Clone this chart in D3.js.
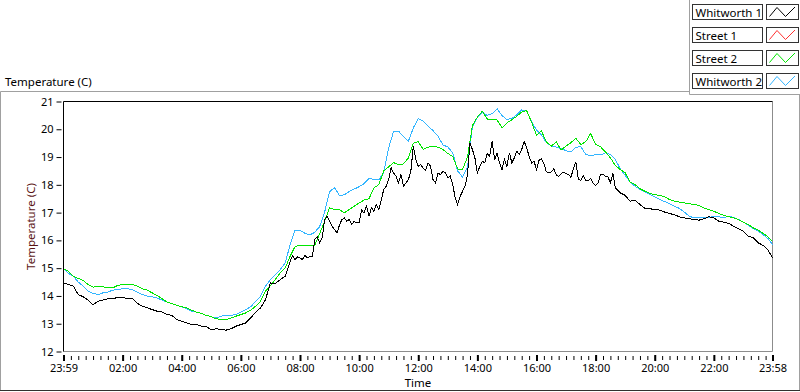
<!DOCTYPE html>
<html>
<head>
<meta charset="utf-8">
<script src="https://cdn.jsdelivr.net/npm/d3@7/dist/d3.min.js"></script>
<style>
  body { margin: 0; background: #fff; }
  svg text { font-family: "Noto Sans", sans-serif; fill: #000; }
</style>
</head>
<body>
<div id="chart"></div>
<script>
// minutes between samples, measured from the 23:59 start
const stepMinutes = 10;
const lastMinute = 1439;

const seriesNames = ["Whitworth 1", "Street 1", "Street 2", "Whitworth 2"];
const seriesColors = ["#000000", "#ff3030", "#00e600", "#33b5ff"];

// Whitworth 1 is logged more densely during the day, where it is noisy
// night: every 10 min from 0, day: every 5 min from 460, evening: every 10 min from 1140
const whitworth1Night = [
  14.47, 14.41, 14.35, 14.05, 13.97, 13.85, 13.68, 13.81, 13.85, 13.90,
  13.92, 13.93, 13.93, 13.92, 13.90, 13.73, 13.63, 13.57, 13.51, 13.45,
  13.42, 13.33, 13.30, 13.15, 13.09, 13.03, 12.97, 12.97, 12.91, 12.89,
  12.79, 12.82, 12.79, 12.77, 12.82, 12.91, 12.97, 13.03, 13.21, 13.42,
  13.57, 13.87, 14.47, 14.45, 14.59, 14.71
];
const whitworth1Day = [
  15.25, 15.45, 15.31, 15.41, 15.37, 15.31, 15.46, 15.37, 15.41, 15.41,
  16.03, 16.13, 15.91, 16.09, 16.75, 16.87, 16.69, 16.51, 16.39, 16.27,
  16.54, 16.75, 16.81, 16.69, 16.75, 16.57, 16.69, 16.63, 16.63, 17.09,
  16.99, 17.23, 16.87, 17.17, 17.05, 17.29, 17.11, 17.47, 17.83, 17.95,
  18.19, 18.61, 18.43, 18.31, 18.07, 18.37, 17.95, 18.07, 18.19, 18.49,
  19.39, 18.91, 18.67, 18.73, 18.60, 18.52, 18.79, 18.67, 18.19, 18.07,
  18.43, 18.37, 18.49, 18.43, 18.25, 18.31, 18.01, 17.53, 17.29, 17.59,
  17.77, 17.95, 18.37, 19.50, 19.27, 18.97, 18.43, 18.67, 18.85, 18.79,
  19.12, 19.03, 19.57, 18.91, 19.15, 18.79, 18.55, 18.91, 18.67, 19.15,
  18.79, 18.97, 19.21, 19.09, 19.27, 19.57, 19.33, 19.03, 18.79, 18.85,
  18.55, 18.88, 18.94, 18.76, 18.47, 18.43, 18.46, 18.58, 18.36, 18.31,
  18.40, 18.46, 18.40, 18.38, 18.27, 18.60, 18.82, 18.20, 18.16, 18.33,
  18.16, 18.16, 18.22, 18.07, 17.98, 18.07, 18.37, 18.37, 18.31, 18.29,
  18.07, 18.41, 17.89, 17.81, 17.71
];
const whitworth1Evening = [
  17.62, 17.41, 17.45, 17.29, 17.16, 17.14, 17.11, 17.09, 17.02, 16.97,
  16.92, 16.85, 16.81, 16.78, 16.75, 16.73, 16.78, 16.85, 16.81, 16.69,
  16.66, 16.61, 16.51, 16.42, 16.33, 16.15, 16.09, 15.91, 15.82, 15.65,
  15.37
];

// no samples were logged for this sensor
const street1 = [];

const street2 = [
  14.98, 14.89, 14.71, 14.63, 14.56, 14.41, 14.32, 14.33, 14.33, 14.29,
  14.29, 14.38, 14.41, 14.41, 14.41, 14.35, 14.26, 14.21, 14.11, 14.02,
  13.90, 13.78, 13.73, 13.66, 13.61, 13.57, 13.49, 13.42, 13.37, 13.30,
  13.25, 13.18, 13.15, 13.15, 13.21, 13.27, 13.33, 13.39, 13.49, 13.63,
  13.81, 14.17, 14.38, 14.59, 14.83, 15.01, 15.43, 15.78, 15.83, 15.80,
  15.80, 15.83, 16.25, 16.69, 17.17, 17.11, 17.11, 16.99, 17.11, 17.23,
  17.35, 17.45, 17.50, 17.89, 18.01, 18.50, 18.65, 18.80, 18.72, 18.75,
  18.97, 19.50, 19.55, 19.28, 19.36, 19.37, 19.36, 19.27, 19.13, 19.02,
  18.57, 18.56, 19.00, 20.14, 20.44, 20.65, 20.37, 20.36, 20.34, 20.05,
  20.23, 20.34, 20.47, 20.62, 20.67, 20.26, 19.78, 19.94, 19.55, 19.39,
  19.55, 19.25, 19.40, 19.52, 19.67, 19.45, 19.55, 19.85, 19.45, 19.37,
  19.18, 18.97, 18.70, 18.55, 18.43, 18.10, 18.01, 17.86, 17.77, 17.69,
  17.65, 17.62, 17.57, 17.47, 17.41, 17.38, 17.35, 17.32, 17.29, 17.26,
  17.17, 17.11, 17.05, 16.97, 16.90, 16.85, 16.81, 16.75, 16.66, 16.57,
  16.45, 16.37, 16.25, 16.13, 15.97
];

const whitworth2 = [
  14.98, 14.81, 14.71, 14.50, 14.35, 14.17, 14.09, 14.05, 14.11, 14.14,
  14.21, 14.23, 14.26, 14.26, 14.23, 14.14, 14.05, 13.99, 13.97, 13.93,
  13.85, 13.78, 13.73, 13.66, 13.61, 13.54, 13.45, 13.42, 13.37, 13.30,
  13.25, 13.21, 13.27, 13.30, 13.30, 13.33, 13.42, 13.51, 13.61, 13.81,
  13.99, 14.35, 14.59, 14.77, 14.95, 15.19, 15.85, 16.37, 16.35, 16.26,
  16.20, 16.29, 16.50, 17.02, 17.75, 17.90, 17.62, 17.64, 17.76, 17.85,
  17.93, 18.04, 18.23, 18.20, 18.18, 18.45, 19.33, 19.93, 19.93, 19.75,
  19.57, 20.05, 20.39, 20.30, 20.12, 19.95, 19.75, 19.44, 19.36, 19.15,
  18.50, 18.28, 18.65, 20.10, 20.42, 20.60, 20.50, 20.56, 20.74, 20.49,
  20.35, 20.39, 20.52, 20.70, 20.65, 20.28, 19.97, 19.80, 19.52, 19.40,
  19.36, 19.31, 19.23, 19.18, 19.35, 19.38, 19.09, 19.06, 19.08, 19.08,
  19.15, 19.09, 18.91, 18.58, 18.34, 18.10, 17.95, 17.83, 17.74, 17.65,
  17.57, 17.47, 17.40, 17.32, 17.23, 17.15, 17.02, 16.87, 16.81, 16.81,
  16.81, 16.81, 16.87, 16.85, 16.81, 16.87, 16.82, 16.75, 16.66, 16.54,
  16.42, 16.33, 16.21, 16.06, 15.85
];

const xTickMinutes = [0, 120, 240, 360, 480, 600, 720, 840, 960, 1080, 1200, 1320, 1439];
const xTickLabels = ["23:59", "02:00", "04:00", "06:00", "08:00", "10:00", "12:00",
                     "14:00", "16:00", "18:00", "20:00", "22:00", "23:58"];
const yTicks = [12, 13, 14, 15, 16, 17, 18, 19, 20, 21];

const width = 800, height = 392;
const plot = { left: 63.5, right: 772.5, top: 101.5, bottom: 351.5 };

const svg = d3.select("#chart").append("svg")
  .attr("width", width)
  .attr("height", height);

const x = d3.scaleLinear().domain([0, lastMinute]).range([plot.left, plot.right]);
const y = d3.scaleLinear().domain([12, 21]).range([plot.bottom, plot.top]);

// outer graph frame
svg.append("path")
  .attr("d", `M0.5,391 V91.5 H689`)
  .attr("fill", "none").attr("stroke", "#a0a0a0");
svg.append("path")
  .attr("d", `M799.5,95 V390.5 H0`)
  .attr("fill", "none").attr("stroke", "#a0a0a0");
svg.append("line")
  .attr("x1", 0).attr("x2", 800).attr("y1", 390.5).attr("y2", 390.5)
  .attr("stroke", "#303030");

// legend panel edge
svg.append("path")
  .attr("d", `M689.5,0 V94.5 H800`)
  .attr("fill", "none").attr("stroke", "#a0a0a0");

// title
svg.append("text")
  .attr("x", 5).attr("y", 86)
  .style("font-size", "11.5px")
  .text("Temperature (C)");

// plot border: dark left/top, grey right/bottom
svg.append("path")
  .attr("d", `M${plot.right},${plot.top} V${plot.bottom} H${plot.left}`)
  .attr("fill", "none").attr("stroke", "#8c8c8c");
svg.append("path")
  .attr("d", `M${plot.left},${plot.bottom} V${plot.top} H${plot.right}`)
  .attr("fill", "none").attr("stroke", "#000");

// y axis
const yAxis = d3.axisLeft(y).tickValues(yTicks).tickSize(5).tickPadding(3);
const gy = svg.append("g")
  .attr("transform", `translate(${plot.left - 2},0)`)
  .call(yAxis);
gy.select(".domain").remove();
gy.selectAll("text").style("font-size", "11px").attr("fill", "#000");

// x axis: minor ticks every 15 minutes, labelled ticks every 2 hours
const xMinor = d3.axisBottom(x).tickValues(d3.range(0, lastMinute, 15))
  .tickSize(4).tickFormat("");
const gxm = svg.append("g")
  .attr("transform", `translate(0,${plot.bottom + 4.5})`)
  .call(xMinor);
gxm.select(".domain").remove();

const xAxis = d3.axisBottom(x).tickValues(xTickMinutes)
  .tickSize(6).tickPadding(3)
  .tickFormat((d, i) => xTickLabels[i]);
const gx = svg.append("g")
  .attr("transform", `translate(0,${plot.bottom + 3.5})`)
  .call(xAxis);
gx.select(".domain").remove();
gx.selectAll("line").attr("stroke-width", 2);
gx.selectAll("text").style("font-size", "11px").attr("fill", "#000");

// axis names
svg.append("text")
  .attr("x", (plot.left + plot.right) / 2).attr("y", 387)
  .attr("text-anchor", "middle")
  .style("font-size", "11.5px")
  .text("Time");

svg.append("text")
  .attr("transform", `translate(35,${(plot.top + plot.bottom) / 2}) rotate(-90)`)
  .attr("text-anchor", "middle")
  .style("font-size", "11.5px")
  .style("fill", "#5a1414")
  .text("Temperature (C)");

// series as [minute, value] pairs
const evenly = vals => vals.map((v, i) => [Math.min(i * stepMinutes, lastMinute), v]);
const whitworth1 = [
  ...whitworth1Night.map((v, i) => [i * 10, v]),
  ...whitworth1Day.map((v, i) => [460 + i * 5, v]),
  ...whitworth1Evening.map((v, i) => [Math.min(1140 + i * 10, lastMinute), v])
];
const series = [whitworth1, evenly(street1), evenly(street2), evenly(whitworth2)];

const line = d3.line()
  .x(d => x(d[0]))
  .y(d => y(d[1]));

const drawOrder = [3, 2, 1, 0];
svg.append("g")
  .selectAll("path")
  .data(drawOrder)
  .join("path")
  .attr("d", k => series[k].length ? line(series[k]) : null)
  .attr("fill", "none")
  .attr("stroke", k => seriesColors[k])
  .attr("stroke-width", 1)
  .attr("shape-rendering", "crispEdges");

// legend
const legend = svg.append("g").attr("transform", "translate(692.5,4.5)");
const rows = legend.selectAll("g")
  .data(seriesNames)
  .join("g")
  .attr("transform", (d, i) => `translate(0,${i * 23})`);

rows.append("rect")
  .attr("width", 70).attr("height", 15)
  .attr("fill", "#fff").attr("stroke", "#333");
rows.append("text")
  .attr("x", 3).attr("y", 12)
  .style("font-size", "11.5px")
  .text(d => d);
rows.append("rect")
  .attr("x", 74).attr("width", 32).attr("height", 15)
  .attr("fill", "#fff").attr("stroke", "#333");
rows.append("path")
  .attr("d", "M77,12 L84.5,3 L93,12 L102.5,2.5")
  .attr("fill", "none")
  .attr("stroke", (d, i) => seriesColors[i]);
</script>
</body>
</html>
